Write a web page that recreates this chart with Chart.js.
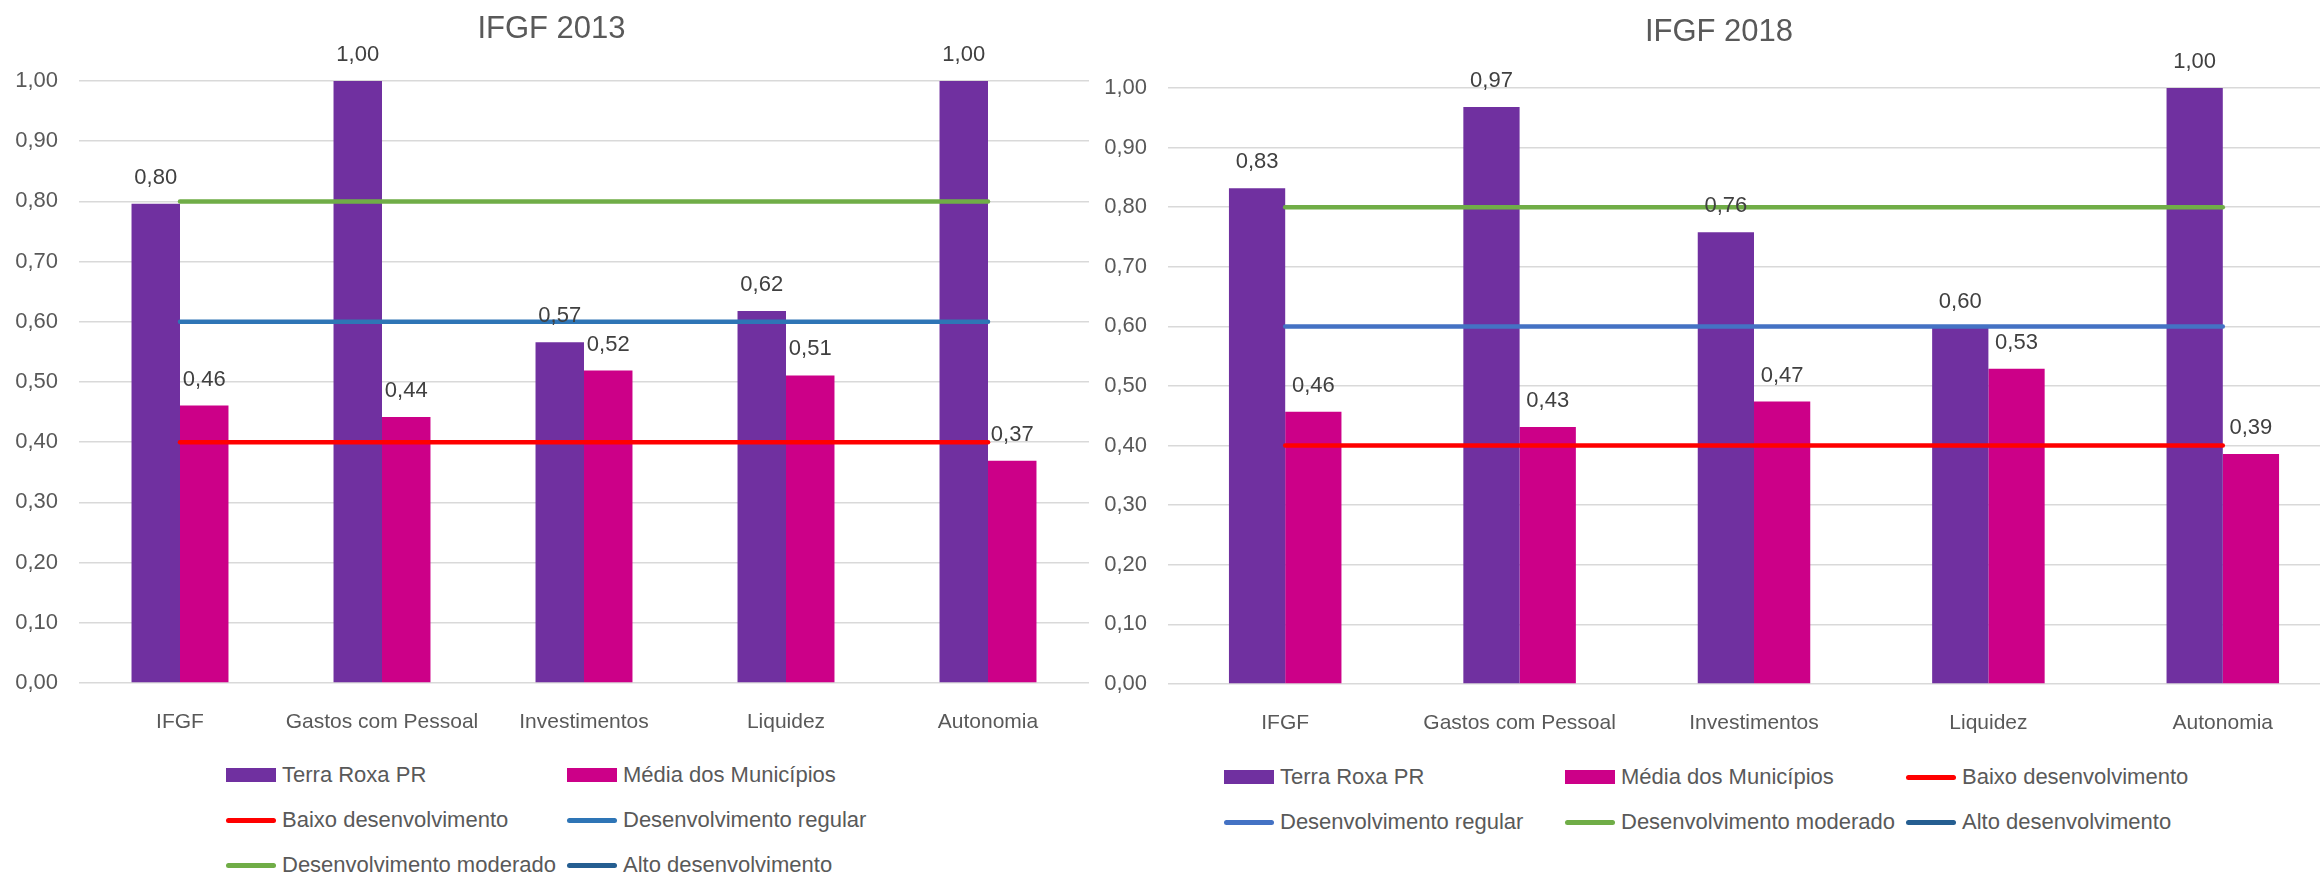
<!DOCTYPE html>
<html>
<head>
<meta charset="utf-8">
<script src="https://cdn.jsdelivr.net/npm/chart.js@4/dist/chart.umd.min.js"></script>
<style>
  html, body { margin: 0; padding: 0; background: #fff; width: 2320px; height: 874px; overflow: hidden; position: relative; }
  canvas { position: absolute; top: 0; }
  #c2013 { left: 0; }
  #c2018 { left: 1098px; }
  .legend-item { position: absolute; display: flex; align-items: center; height: 30px; margin-top: -15px;
    font: 22px "Liberation Sans", Arial, sans-serif; color: #595959; white-space: nowrap; }
  .sw { width: 50px; margin-right: 6px; }
  .sw.bar { height: 14px; }
  .sw.line { height: 5px; border-radius: 3px; }
</style>
</head>
<body>
<canvas id="c2013" width="1112" height="760"></canvas>
<canvas id="c2018" width="1242" height="760"></canvas>
<div id="legends"></div>

<script>
// ---- dados ----
const categorias = ["IFGF", "Gastos com Pessoal", "Investimentos", "Liquidez", "Autonomia"];
const yTicks = [0, 0.1, 0.2, 0.3, 0.4, 0.5, 0.6, 0.7, 0.8, 0.9, 1.0];

const terraRoxa2013 = [0.796, 1.00, 0.566, 0.618, 1.00];
const media2013 = [0.461, 0.442, 0.519, 0.511, 0.369];
const terraRoxa2018 = [0.832, 0.968, 0.758, 0.598, 1.00];
const media2018 = [0.457, 0.431, 0.474, 0.529, 0.386];

const baixo = [0.4, 0.4, 0.4, 0.4, 0.4];
const regular = [0.6, 0.6, 0.6, 0.6, 0.6];
const moderado = [0.8, 0.8, 0.8, 0.8, 0.8];
const alto = [];

const FONT = '"Liberation Sans", Arial, sans-serif';
Chart.defaults.font.family = FONT;
Chart.defaults.color = "#595959";

const fmt = v => (Math.round(v * 100) / 100).toFixed(2).replace(".", ",");

// rótulos de valor acima das barras
const valueLabels = {
  id: "valueLabels",
  afterDatasetsDraw(chart) {
    const ctx = chart.ctx;
    ctx.save();
    ctx.font = "22px " + FONT;
    ctx.fillStyle = "#404040";
    ctx.textAlign = "center";
    ctx.textBaseline = "middle";
    chart.data.datasets.forEach((ds, i) => {
      if (ds.type !== "bar") return;
      chart.getDatasetMeta(i).data.forEach((bar, j) => {
        ctx.fillText(fmt(ds.data[j]), bar.x, bar.y - 26);
      });
    });
    ctx.restore();
  }
};

function lineDs(label, data, color) {
  return {
    type: "line", label, data,
    borderColor: color, backgroundColor: color,
    borderWidth: 4.5, borderCapStyle: "round",
    pointRadius: 0, fill: false, tension: 0, order: 1
  };
}

function makeChart(id, titulo, terra, media, azulRegular, cfg) {
  const datasets = [
    { type: "bar", label: "Terra Roxa PR", data: terra, backgroundColor: "#7030A0", order: 2,
      categoryPercentage: 0.48, barPercentage: 1.0 },
    { type: "bar", label: "Média dos Municípios", data: media, backgroundColor: "#CC0088", order: 2,
      categoryPercentage: 0.48, barPercentage: 1.0 },
    lineDs("Baixo desenvolvimento", baixo, "#FF0000"),
    lineDs("Desenvolvimento regular", regular, azulRegular),
    lineDs("Desenvolvimento moderado", moderado, "#70AD47"),
    lineDs("Alto desenvolvimento", alto, "#255E91")
  ];

  new Chart(document.getElementById(id), {
    data: { labels: categorias, datasets },
    options: {
      responsive: false,
      animation: false,
      layout: { padding: cfg.padding },
      plugins: {
        legend: { display: false },
        tooltip: { enabled: false },
        title: {
          display: true, text: titulo, color: "#595959",
          font: { size: 31, weight: "normal" },
          padding: cfg.titlePadding
        }
      },
      scales: {
        x: {
          grid: { display: false },
          border: { display: false },
          ticks: { font: { size: 21 }, color: "#595959", padding: 18.4, maxRotation: 0, autoSkip: false }
        },
        y: {
          min: 0, max: 1,
          afterBuildTicks: s => { s.ticks = yTicks.map(v => ({ value: v })); },
          afterFit: s => { s.width = cfg.yWidth; },
          grid: { color: "#d9d9d9", lineWidth: 1.5, drawTicks: false },
          border: { display: false },
          ticks: { font: { size: 22 }, color: "#595959", padding: 21, callback: v => fmt(v) }
        }
      }
    },
    plugins: [valueLabels]
  });
  return datasets;
}

const ds2013 = makeChart("c2013", "IFGF 2013", terraRoxa2013, media2013, "#2E75B6", {
  padding: { left: 14, right: 23, top: 0, bottom: 7 },
  titlePadding: { top: 10.4, bottom: 33.4 },
  yWidth: 65
});
const ds2018 = makeChart("c2018", "IFGF 2018", terraRoxa2018, media2018, "#4472C4", {
  padding: { left: 0, right: 0, top: 0, bottom: 6 },
  titlePadding: { top: 13.4, bottom: 37.4 },
  yWidth: 70
});

// ---- legendas (em grade, como no Excel) ----
function legend(datasets, x0, y0, cols, colW, rowH) {
  const box = document.getElementById("legends");
  datasets.forEach((ds, k) => {
    const item = document.createElement("div");
    item.className = "legend-item";
    item.style.left = (x0 + (k % cols) * colW) + "px";
    item.style.top = (y0 + Math.floor(k / cols) * rowH) + "px";
    const sw = document.createElement("span");
    sw.className = "sw " + ds.type;
    sw.style.background = ds.type === "bar" ? ds.backgroundColor : ds.borderColor;
    const txt = document.createElement("span");
    txt.textContent = ds.label;
    item.appendChild(sw);
    item.appendChild(txt);
    box.appendChild(item);
  });
}
legend(ds2013, 226, 775, 2, 341, 45);
legend(ds2018, 1224, 777, 3, 341, 45);
</script>
</body>
</html>
